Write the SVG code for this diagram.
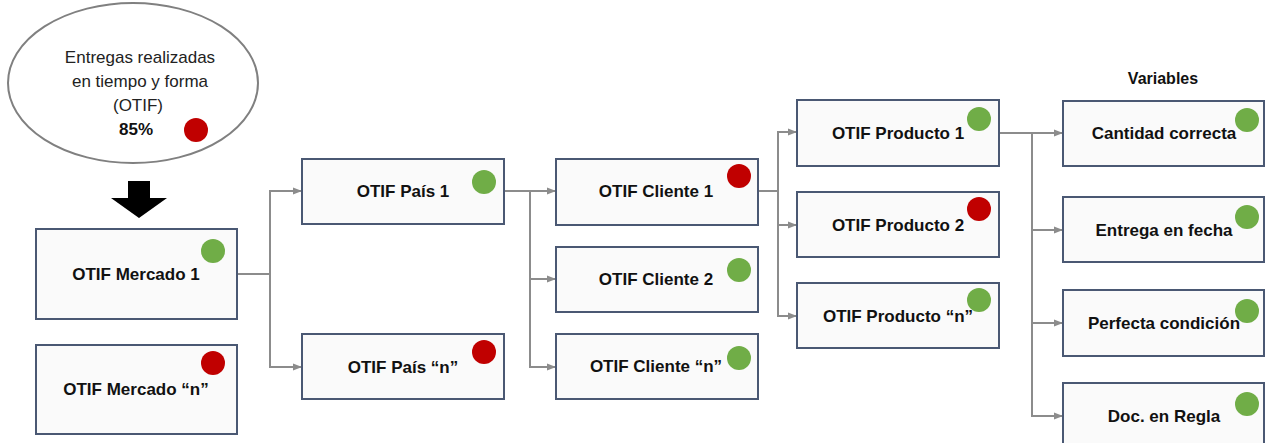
<svg xmlns="http://www.w3.org/2000/svg" width="1266" height="443" viewBox="0 0 1266 443">
  <style>
    .box { fill: #fafafa; stroke: #4a5873; stroke-width: 2; }
    .lbl { font-family: "Liberation Sans", Arial, sans-serif; font-size: 17px; font-weight: bold; fill: #111; text-anchor: middle; dominant-baseline: central; }
    .txt { font-family: "Liberation Sans", Arial, sans-serif; font-size: 17px; fill: #222; text-anchor: middle; dominant-baseline: central; }
    .ok { fill: #70ad47; }
    .bad { fill: #c00000; }
    .conn { fill: none; stroke: #8c8c8c; stroke-width: 2; marker-end: url(#arr); }
  </style>
  <defs>
    <marker id="arr" markerUnits="userSpaceOnUse" markerWidth="10" markerHeight="10" refX="9" refY="5" orient="auto">
      <path d="M0,1.5 L9,5 L0,8.5 Z" fill="#8c8c8c"/>
    </marker>
  </defs>
  <rect width="1266" height="443" fill="#ffffff"/>

  <!-- Overall OTIF indicator -->
  <g id="otif-total">
    <ellipse cx="133" cy="83" rx="125" ry="80" fill="#ffffff" stroke="#808080" stroke-width="2"/>
    <text class="txt" x="140" y="57">Entregas realizadas</text>
    <text class="txt" x="140" y="81">en tiempo y forma</text>
    <text class="txt" x="138" y="105">(OTIF)</text>
    <text class="lbl" x="136" y="129">85%</text>
    <circle class="bad" cx="196" cy="130" r="12"/>
  </g>

  <!-- Down arrow -->
  <g id="down-arrow">
    <path d="M128,181 H150 V198 H167 L139,218 L111,198 H128 Z" fill="#000000"/>
  </g>

  <!-- Connectors -->
  <g id="connectors">
    <path class="conn" d="M237,274 H270 V191 H302"/>
    <path class="conn" d="M270,274 V367 H302"/>
    <path class="conn" d="M504,191 H556"/>
    <path class="conn" d="M530,191 V279 H556"/>
    <path class="conn" d="M530,279 V367 H556"/>
    <path class="conn" d="M758,191 H778 V132 H797"/>
    <path class="conn" d="M778,191 V225 H797"/>
    <path class="conn" d="M778,225 V316 H797"/>
    <path class="conn" d="M999,133 H1063"/>
    <path class="conn" d="M1032,133 V230 H1063"/>
    <path class="conn" d="M1032,230 V323 H1063"/>
    <path class="conn" d="M1032,323 V416 H1063"/>
  </g>

  <!-- Markets -->
  <g id="mercado-1">
    <rect class="box" x="36" y="229" width="201" height="90"/>
    <text class="lbl" x="136" y="274">OTIF Mercado 1</text>
    <circle class="ok" cx="213" cy="251" r="12"/>
  </g>
  <g id="mercado-n">
    <rect class="box" x="36" y="345" width="201" height="89"/>
    <text class="lbl" x="136" y="389">OTIF Mercado “n”</text>
    <circle class="bad" cx="213" cy="363" r="12"/>
  </g>

  <!-- Countries -->
  <g id="pais-1">
    <rect class="box" x="302" y="159" width="202" height="65"/>
    <text class="lbl" x="403" y="191">OTIF País 1</text>
    <circle class="ok" cx="484" cy="182" r="12"/>
  </g>
  <g id="pais-n">
    <rect class="box" x="302" y="334" width="202" height="65"/>
    <text class="lbl" x="403" y="367">OTIF País “n”</text>
    <circle class="bad" cx="484" cy="352" r="12"/>
  </g>

  <!-- Customers -->
  <g id="cliente-1">
    <rect class="box" x="556" y="159" width="202" height="66"/>
    <text class="lbl" x="656" y="191">OTIF Cliente 1</text>
    <circle class="bad" cx="739" cy="176" r="12"/>
  </g>
  <g id="cliente-2">
    <rect class="box" x="556" y="247" width="202" height="65"/>
    <text class="lbl" x="656" y="279">OTIF Cliente 2</text>
    <circle class="ok" cx="739" cy="270" r="12"/>
  </g>
  <g id="cliente-n">
    <rect class="box" x="556" y="334" width="202" height="65"/>
    <text class="lbl" x="656" y="366">OTIF Cliente “n”</text>
    <circle class="ok" cx="739" cy="358" r="12"/>
  </g>

  <!-- Products -->
  <g id="producto-1">
    <rect class="box" x="797" y="100" width="202" height="66"/>
    <text class="lbl" x="898" y="133">OTIF Producto 1</text>
    <circle class="ok" cx="979" cy="119" r="12"/>
  </g>
  <g id="producto-2">
    <rect class="box" x="797" y="192" width="202" height="65"/>
    <text class="lbl" x="898" y="225">OTIF Producto 2</text>
    <circle class="bad" cx="979" cy="209" r="12"/>
  </g>
  <g id="producto-n">
    <rect class="box" x="797" y="283" width="202" height="65"/>
    <text class="lbl" x="898" y="316">OTIF Producto “n”</text>
    <circle class="ok" cx="979" cy="300" r="12"/>
  </g>

  <!-- Variables -->
  <text class="lbl" x="1163" y="78" style="font-size:16px">Variables</text>
  <g id="var-cantidad">
    <rect class="box" x="1063" y="101" width="201" height="65"/>
    <text class="lbl" x="1164" y="133">Cantidad correcta</text>
    <circle class="ok" cx="1247" cy="120" r="12"/>
  </g>
  <g id="var-entrega">
    <rect class="box" x="1063" y="197" width="201" height="65"/>
    <text class="lbl" x="1164" y="230">Entrega en fecha</text>
    <circle class="ok" cx="1247" cy="217" r="12"/>
  </g>
  <g id="var-perfecta">
    <rect class="box" x="1063" y="290" width="201" height="66"/>
    <text class="lbl" x="1164" y="323">Perfecta condición</text>
    <circle class="ok" cx="1247" cy="311" r="12"/>
  </g>
  <g id="var-doc">
    <rect class="box" x="1063" y="383" width="201" height="66"/>
    <text class="lbl" x="1164" y="416">Doc. en Regla</text>
    <circle class="ok" cx="1247" cy="404" r="12"/>
  </g>
</svg>
